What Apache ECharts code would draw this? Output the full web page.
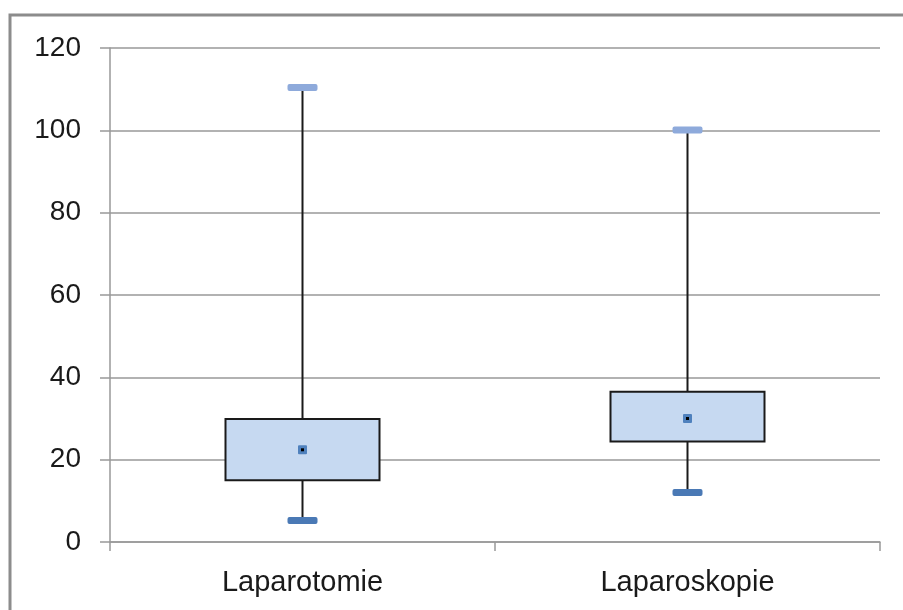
<!DOCTYPE html>
<html>
<head>
<meta charset="utf-8">
<script src="https://cdn.jsdelivr.net/npm/echarts@6/dist/echarts.min.js"></script>
<style>html,body{margin:0;padding:0;background:#fff}#c{width:903px;height:610px}</style>
</head>
<body>
<div id="c"></div>
<script>
var categories = ['Laparotomie', 'Laparoskopie'];
var minVals = [5.2, 12.0];
var q1Vals = [15.0, 24.4];
var meanVals = [22.4, 30.0];
var q3Vals = [29.9, 36.5];
var maxVals = [110.4, 100.1];
var yTicks = [0, 20, 40, 60, 80, 100, 120];

var FONT = 'Liberation Sans';
var chart = echarts.init(document.getElementById('c'), null, {renderer: 'canvas'});

var data = categories.map(function (c, i) {
  return [i, minVals[i], q1Vals[i], meanVals[i], q3Vals[i], maxVals[i]];
});

function renderItem(params, api) {
  var x = api.value(0);
  var pMin = api.coord([x, api.value(1)]);
  var pQ1 = api.coord([x, api.value(2)]);
  var pMean = api.coord([x, api.value(3)]);
  var pQ3 = api.coord([x, api.value(4)]);
  var pMax = api.coord([x, api.value(5)]);
  var band = api.size([1, 0])[0];
  var bw = band * 0.4;
  var cx = pMin[0];
  var capW = 30, capH = 7;
  var children = [
    {type: 'line', shape: {x1: cx, y1: pMax[1], x2: cx, y2: pQ3[1]}, style: {stroke: '#1a1a1a', lineWidth: 2}},
    {type: 'line', shape: {x1: cx, y1: pQ1[1], x2: cx, y2: pMin[1]}, style: {stroke: '#1a1a1a', lineWidth: 2}},
    {type: 'rect', shape: {x: cx - bw / 2, y: pQ3[1], width: bw, height: pQ1[1] - pQ3[1]}, style: {fill: '#c6d9f1', stroke: '#1a1a1a', lineWidth: 2}},
    {type: 'rect', shape: {x: cx - capW / 2, y: pMax[1] - capH / 2, width: capW, height: capH, r: 2}, style: {fill: '#8eaadb'}},
    {type: 'rect', shape: {x: cx - capW / 2, y: pMin[1] - capH / 2, width: capW, height: capH, r: 2}, style: {fill: '#4a79b5'}},
    {type: 'rect', shape: {x: cx - 4.5, y: pMean[1] - 4.5, width: 9, height: 9, r: 1}, style: {fill: '#4f81bd'}},
    {type: 'rect', shape: {x: cx - 1.5, y: pMean[1] - 1.5, width: 3, height: 3}, style: {fill: '#000'}}
  ];
  return {type: 'group', children: children};
}

chart.setOption({
  animation: false,
  backgroundColor: '#fff',
  graphic: [{
    type: 'rect', z: -10,
    shape: {x: 10, y: 15, width: 1000, height: 1000},
    style: {fill: 'none', stroke: '#8c8c8c', lineWidth: 3}
  }],
  grid: {left: 110, right: 23, top: 48, bottom: 68},
  xAxis: {
    type: 'category',
    data: categories,
    boundaryGap: true,
    axisLine: {show: true, lineStyle: {color: '#999', width: 1.5}},
    axisTick: {show: true, alignWithLabel: false, length: 9, lineStyle: {color: '#999', width: 1.5}},
    axisLabel: {fontFamily: FONT, fontSize: 29, color: '#1a1a1a', margin: 26}
  },
  yAxis: {
    type: 'value',
    min: yTicks[0], max: yTicks[yTicks.length - 1], interval: 20,
    axisLine: {show: true, lineStyle: {color: '#999', width: 1.5}},
    axisTick: {show: true, length: 10, lineStyle: {color: '#999', width: 1.5}},
    splitLine: {show: true, lineStyle: {color: '#999', width: 1.5}},
    axisLabel: {fontFamily: FONT, fontSize: 28, color: '#1a1a1a', margin: 29}
  },
  series: [{
    type: 'custom',
    renderItem: renderItem,
    encode: {x: 0, y: [1, 2, 3, 4, 5]},
    data: data,
    z: 5
  }]
});
</script>
</body>
</html>
